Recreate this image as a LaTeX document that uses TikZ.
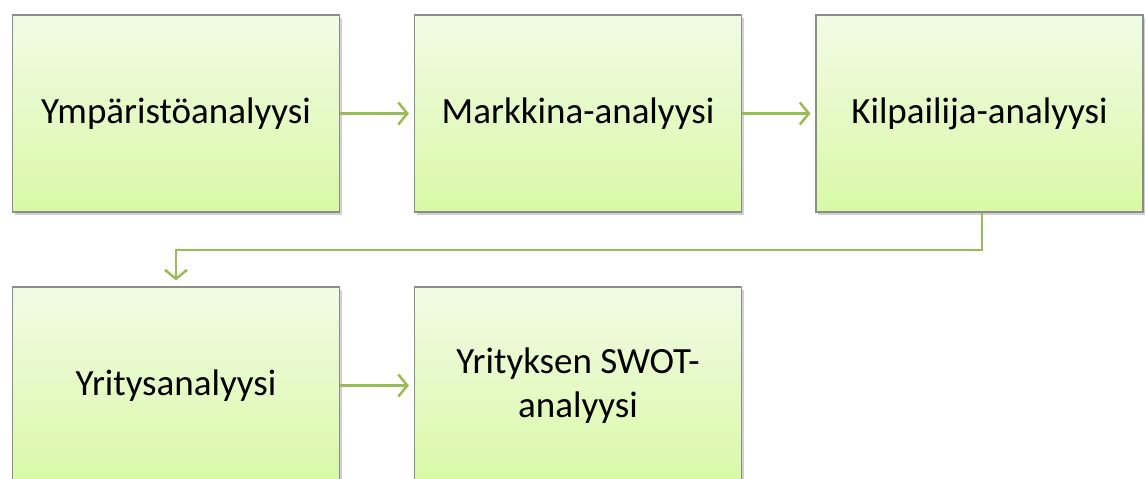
\documentclass[tikz,border=0pt]{standalone}
\usepackage{fontspec}
\setmainfont{Carlito}
\usetikzlibrary{arrows.meta,shadows,positioning}
\definecolor{boxtop}{HTML}{F2FBE6}
\definecolor{boxbot}{HTML}{D9F9A6}
\definecolor{boxline}{HTML}{8C8C8C}
\definecolor{arrowgreen}{HTML}{9BBB59}
\tikzset{
  stepbox/.style={draw=boxline, line width=1.1pt, top color=boxtop, bottom color=boxbot,
    minimum width=327pt, minimum height=197pt, inner sep=0pt, align=center,
    font=\fontsize{37}{44}\selectfont,
    drop shadow={shadow xshift=2pt, shadow yshift=-3pt, opacity=0.3, fill=black!60}},
  flow/.style={draw=arrowgreen, line width=2.5pt, -{Straight Barb[length=9pt,width=22pt,line width=2.5pt]}}
}
\begin{document}
\begin{tikzpicture}[x=1pt,y=-1pt]
\useasboundingbox (0,0) rectangle (1146,479);
\clip (0,0) rectangle (1146,479);
\node[stepbox] (a) at (176,113.5) {Ympäristöanalyysi};
\node[stepbox] (b) at (578,113.5) {Markkina-analyysi};
\node[stepbox] (c) at (979.5,113.5) {Kilpailija-analyysi};
\node[stepbox] (d) at (176,385.5) {Yritysanalyysi};
\node[stepbox] (e) at (578,385.5) {Yrityksen SWOT-\\analyysi};
\coordinate (bend) at (982,250);
\draw[flow, shorten >=5pt] (a.east) -- (b.west);
\draw[flow, shorten >=5pt] (b.east) -- (c.west);
\draw[flow, shorten >=6pt] (c.south -| bend) -- (bend) -| (d.north);
\draw[flow, shorten >=5pt] (d.east) -- (e.west);
\end{tikzpicture}
\end{document}
